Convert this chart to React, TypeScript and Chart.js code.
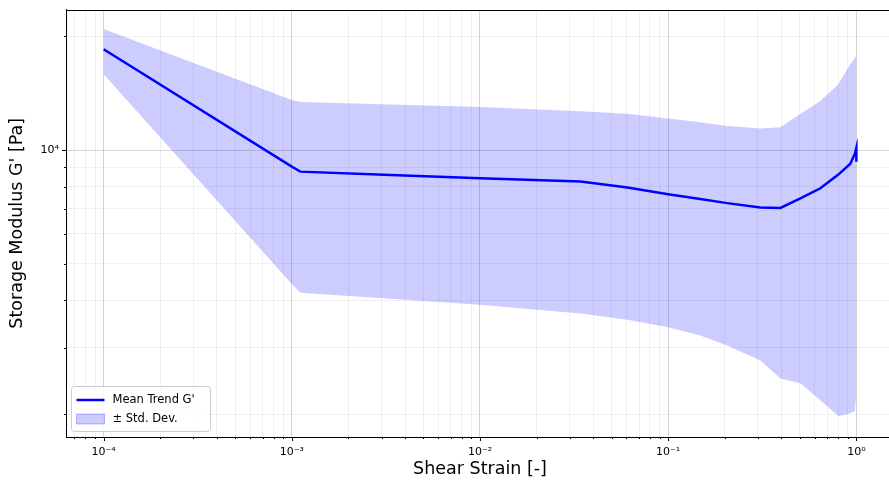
import React, { useEffect, useRef } from "react";
import { Chart, registerables } from "chart.js";

Chart.register(...registerables);

// ---- data ----
const strain = [1e-4, 1.0e-3, 1.11e-3, 3.35e-3, 1.0e-2, 0.0342, 0.0607, 0.1, 0.148, 0.206, 0.309, 0.395, 0.504, 0.644, 0.802, 0.929, 0.982, 1.0, 1.0];
const meanG = [18480, 9039, 8767, 8583, 8419, 8252, 7957, 7641, 7421, 7235, 7049, 7027, 7443, 7922, 8610, 9203, 9779, 10141, 9316];
const upperG = [20920, 13567, 13403, 13201, 13002, 12668, 12485, 12114, 11838, 11587, 11400, 11482, 12462, 13483, 14941, 16872, 17497, 17926, 17926];
const lowerG = [15877, 4421, 4187, 4038, 3894, 3694, 3555, 3393, 3227, 3037, 2773, 2486, 2412, 2176, 1975, 2011, 2035, 2271, 2271];

const xMajorTicks = [1e-4, 1e-3, 1e-2, 1e-1, 1];
const xTickLabels = ["10\u207B\u2074", "10\u207B\u00B3", "10\u207B\u00B2", "10\u207B\u00B9", "10\u2070"];
const yMajorTicks = [1e4];
const yTickLabels = ["10\u2074"];
const xAxisTitle = "Shear Strain [-]";
const yAxisTitle = "Storage Modulus G' [Pa]";
const meanLabel = "Mean Trend G'";
const bandLabel = "\u00B1 Std. Dev.";
const xRange = [6.31e-5, 1.585];
const yRange = [1739, 23540];

const FONT = "'DejaVu Sans', sans-serif";
const LINE_BLUE = "rgb(0,0,255)";
const BAND_FILL = "rgba(0,0,255,0.2)";
const GRID_MAJOR = "rgba(0,0,0,0.16)";
const GRID_MINOR = "rgba(0,0,0,0.06)";

function isMajor(v: number) {
  const l = Math.log10(v);
  return Math.abs(l - Math.round(l)) < 1e-9;
}

function logTicks(min: number, max: number) {
  const out: number[] = [];
  for (let e = Math.floor(Math.log10(min)); e <= Math.ceil(Math.log10(max)); e++) {
    for (let m = 1; m < 10; m++) {
      const v = m * Math.pow(10, e);
      if (v >= min && v <= max) out.push(v);
    }
  }
  return out;
}

function labelFor(value: number, majors: number[], labels: string[]) {
  const i = majors.findIndex((t) => Math.abs(t - value) / t < 1e-6);
  return i >= 0 ? labels[i] : "";
}

const framePlugin = {
  id: "frameTicksLegend",
  afterDraw(chart: any) {
    const ctx = chart.ctx;
    const a = chart.chartArea;
    const xs = chart.scales.x;
    const ys = chart.scales.y;
    ctx.save();
    // tick marks
    ctx.strokeStyle = "#000";
    ctx.lineWidth = 1;
    xs.ticks.forEach((t: any) => {
      const px = Math.round(xs.getPixelForValue(t.value)) + 0.5;
      const len = isMajor(t.value) ? 4 : 2;
      ctx.beginPath();
      ctx.moveTo(px, a.bottom);
      ctx.lineTo(px, a.bottom + len);
      ctx.stroke();
    });
    ys.ticks.forEach((t: any) => {
      const py = Math.round(ys.getPixelForValue(t.value)) + 0.5;
      const len = isMajor(t.value) ? 4 : 2;
      ctx.beginPath();
      ctx.moveTo(a.left, py);
      ctx.lineTo(a.left - len, py);
      ctx.stroke();
    });
    // frame
    ctx.strokeRect(Math.round(a.left) + 0.5, Math.round(a.top) + 0.5, Math.round(a.right - a.left), Math.round(a.bottom - a.top));

    // legend
    const mean = chart.data.datasets[0];
    const band = chart.data.datasets[1];
    const lx = a.left + 5.5;
    const ly = a.bottom - 50.5;
    const lw = 139;
    const lh = 45;
    ctx.fillStyle = "rgba(255,255,255,0.8)";
    ctx.strokeStyle = "#cccccc";
    ctx.lineWidth = 1;
    ctx.beginPath();
    ctx.roundRect(lx, ly, lw, lh, 3);
    ctx.fill();
    ctx.stroke();

    const row1 = ly + 13.5;
    const row2 = ly + 32.5;
    ctx.strokeStyle = mean.borderColor;
    ctx.lineWidth = mean.borderWidth;
    ctx.beginPath();
    ctx.moveTo(lx + 5, row1);
    ctx.lineTo(lx + 33, row1);
    ctx.stroke();

    ctx.fillStyle = band.backgroundColor;
    ctx.fillRect(lx + 5, row2 - 5, 28, 10);
    ctx.strokeStyle = "rgba(0,0,255,0.25)";
    ctx.lineWidth = 1;
    ctx.strokeRect(lx + 5, row2 - 5, 28, 10);

    ctx.fillStyle = "#000";
    ctx.font = "11.5px " + FONT;
    ctx.textBaseline = "middle";
    ctx.textAlign = "left";
    ctx.fillText(mean.label, lx + 41, row1);
    ctx.fillText(band.label, lx + 41, row2);
    ctx.restore();
  },
};

export default function App() {
  const ref = useRef<HTMLCanvasElement | null>(null);

  useEffect(() => {
    if (!ref.current) return;
    Chart.defaults.font.family = FONT;
    const toPts = (ys: number[]) => strain.map((x, i) => ({ x, y: ys[i] }));
    const chart = new Chart(ref.current, {
      type: "line",
      data: {
        datasets: [
          {
            label: meanLabel,
            data: toPts(meanG),
            borderColor: LINE_BLUE,
            borderWidth: 2.5,
            pointRadius: 0,
            fill: false,
            tension: 0,
          },
          {
            label: bandLabel,
            data: toPts(upperG),
            borderWidth: 0,
            borderColor: "rgba(0,0,0,0)",
            backgroundColor: BAND_FILL,
            pointRadius: 0,
            fill: "+1",
            tension: 0,
          },
          {
            label: "lower",
            data: toPts(lowerG),
            borderWidth: 0,
            borderColor: "rgba(0,0,0,0)",
            backgroundColor: BAND_FILL,
            pointRadius: 0,
            fill: false,
            tension: 0,
          },
        ],
      },
      options: {
        animation: false,
        responsive: false,
        devicePixelRatio: 1,
        layout: { padding: { top: 7, left: 0, right: 0, bottom: 0 } },
        plugins: {
          legend: { display: false },
          tooltip: { enabled: false },
        },
        scales: {
          x: {
            type: "logarithmic",
            min: xRange[0],
            max: xRange[1],
            afterBuildTicks: (scale: any) => {
              scale.ticks = logTicks(xRange[0], xRange[1]).map((v) => ({ value: v, major: false }));
            },
            afterFit: (scale: any) => {
              scale.height = 54;
            },
            ticks: {
              autoSkip: false,
              maxRotation: 0,
              minRotation: 0,
              color: "#000",
              padding: 5,
              font: { size: 11 },
              callback: (v: any) => labelFor(Number(v), xMajorTicks, xTickLabels),
            },
            grid: {
              color: (c: any) => (c.tick && isMajor(c.tick.value) ? GRID_MAJOR : GRID_MINOR),
              lineWidth: 1,
              drawTicks: true,
              tickLength: 4,
              tickColor: "rgba(0,0,0,0)",
            },
            border: { display: true, color: "#000", width: 1 },
            title: {
              display: true,
              text: xAxisTitle,
              color: "#000",
              font: { size: 17.5 },
              padding: { top: 0, bottom: 11 },
            },
          },
          y: {
            type: "logarithmic",
            min: yRange[0],
            max: yRange[1],
            afterBuildTicks: (scale: any) => {
              scale.ticks = logTicks(yRange[0], yRange[1]).map((v) => ({ value: v, major: false }));
            },
            afterFit: (scale: any) => {
              scale.width = 66;
            },
            ticks: {
              autoSkip: false,
              color: "#000",
              padding: 3,
              font: { size: 11 },
              callback: (v: any) => labelFor(Number(v), yMajorTicks, yTickLabels),
            },
            grid: {
              color: (c: any) => (c.tick && isMajor(c.tick.value) ? GRID_MAJOR : GRID_MINOR),
              lineWidth: 1,
              drawTicks: true,
              tickLength: 4,
              tickColor: "rgba(0,0,0,0)",
            },
            border: { display: true, color: "#000", width: 1 },
            title: {
              display: true,
              text: yAxisTitle,
              color: "#000",
              font: { size: 17.5 },
              padding: { top: 7, bottom: 0 },
            },
          },
        },
      },
      plugins: [framePlugin],
    } as any);
    return () => chart.destroy();
  }, []);

  return (
    <div style={{ position: "fixed", left: 0, top: 0, width: 894, height: 491, background: "#fff" }}>
      <canvas ref={ref} width={894} height={491} style={{ width: 894, height: 491, display: "block" }} />
    </div>
  );
}
